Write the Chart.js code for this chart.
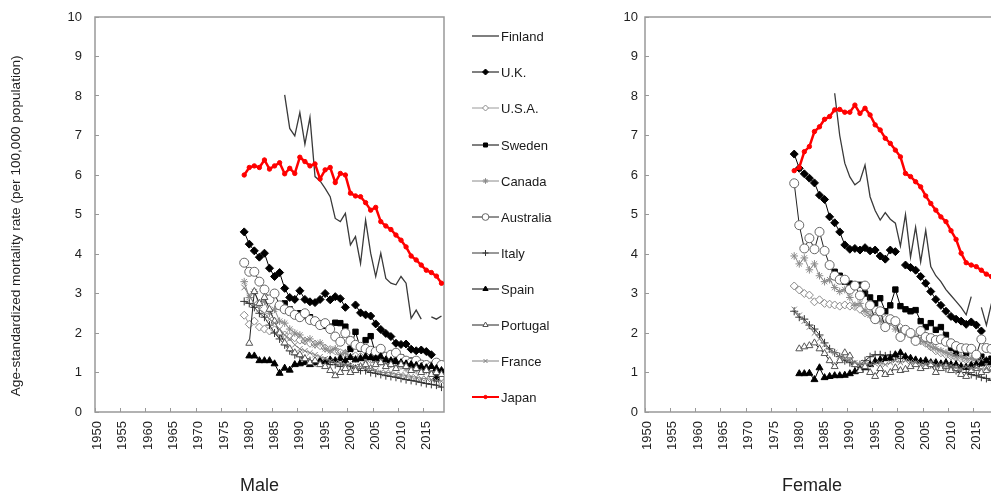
<!DOCTYPE html>
<html>
<head>
<meta charset="utf-8">
<script src="https://cdn.jsdelivr.net/npm/chart.js@4/dist/chart.umd.min.js"></script>
<style>
  html, body { margin:0; padding:0; background:#fff; }
  body { width:991px; height:499px; overflow:hidden; position:relative; font-family:"Liberation Sans", Arial, sans-serif; }
  #male { position:absolute; left:0; top:0; }
  #female { position:absolute; left:560px; top:0; }
  #legend { position:absolute; left:472px; top:0; width:120px; height:420px; }
  .row { position:absolute; left:0; height:16px; display:flex; align-items:center; }
  .row canvas { display:block; }
  .row span { margin-left:2px; font-size:13px; color:#1a1a1a; white-space:nowrap; }
</style>
</head>
<body>
<canvas id="male" width="460" height="499"></canvas>
<div id="legend"></div>
<canvas id="female" width="440" height="499"></canvas>
<script>
// === Data ===
const years = [1979,1980,1981,1982,1983,1984,1985,1986,1987,1988,
               1989,1990,1991,1992,1993,1994,1995,1996,1997,1998,
               1999,2000,2001,2002,2003,2004,2005,2006,2007,2008,
               2009,2010,2011,2012,2013,2014,2015,2016,2017,2018];
const tickYears = [1950,1955,1960,1965,1970,1975,1980,1985,1990,1995,2000,2005,2010,2015];
const countries = ['Finland','U.K.','U.S.A.','Sweden','Canada','Australia','Italy','Spain','Portugal','France','Japan'];

// Male
const finlandM = [null,null,null,null,null,null,null,null,8.03,7.18,6.99,7.58,6.78,7.46,5.96,5.85,5.66,5.45,4.90,4.82,5.03,4.23,4.44,3.76,4.86,4.02,3.43,4.02,3.38,3.26,3.22,3.43,3.26,2.37,2.58,2.35,null,2.41,2.35,2.43];
const ukM = [4.56,4.25,4.08,3.92,4.02,3.64,3.43,3.53,3.13,2.90,2.85,3.07,2.85,2.79,2.77,2.85,3.00,2.84,2.92,2.87,2.65,null,2.71,2.51,2.46,2.43,2.23,2.09,1.99,1.91,1.74,1.71,1.72,1.59,1.55,1.57,1.53,1.45,null,null];
const usaM = [2.45,2.22,2.30,2.15,2.10,2.05,2.08,1.98,1.95,1.90,1.88,1.82,1.80,1.74,1.72,1.68,1.62,1.58,1.55,1.50,1.48,1.45,1.42,1.40,1.36,1.33,1.30,1.28,1.25,1.22,1.20,1.18,1.15,1.12,1.12,1.10,1.08,1.06,1.05,1.05];
const swedenM = [null,null,null,null,null,null,null,null,2.75,2.60,2.45,2.50,2.43,2.40,2.30,2.25,2.18,2.16,2.26,2.25,2.16,1.60,2.03,1.60,1.82,1.92,1.45,1.50,1.35,1.42,1.30,1.38,1.25,1.30,1.23,1.15,1.10,1.05,0.85,1.02];
const canadaM = [3.30,2.90,3.05,2.70,2.80,2.50,2.60,2.30,2.25,2.10,2.00,1.95,1.80,1.85,1.70,1.75,1.60,1.55,1.60,1.45,1.50,1.40,1.35,1.40,1.30,1.35,1.25,1.30,1.20,1.25,1.15,1.20,1.10,1.15,1.05,1.10,1.05,1.00,1.05,1.00];
const australiaM = [3.78,3.55,3.55,3.30,3.10,2.85,3.00,2.70,2.60,2.55,2.46,2.40,2.50,2.33,2.30,2.20,2.25,2.10,1.91,1.78,2.00,1.80,1.70,1.65,1.60,1.55,1.53,1.60,1.40,1.45,1.50,1.35,1.30,1.25,1.30,1.20,1.19,1.15,1.25,1.19];
const italyM = [2.80,2.75,2.65,2.50,2.40,2.20,2.00,1.85,1.70,1.55,1.45,1.40,1.35,1.30,1.25,1.30,1.25,1.20,1.20,1.15,1.20,1.15,1.10,1.05,1.05,1.00,0.98,0.95,0.92,0.90,0.88,0.85,0.82,0.80,0.78,0.75,0.72,0.70,0.68,0.63];
const spainM = [null,1.42,1.42,1.30,1.30,1.30,1.22,0.98,1.11,1.06,1.20,1.22,1.25,1.20,1.25,1.30,1.28,1.32,1.30,1.35,1.30,1.38,1.32,1.35,1.40,1.38,1.35,1.40,1.32,1.30,1.28,1.25,1.22,1.20,1.18,1.15,1.12,1.15,1.10,1.05];
const portugalM = [null,1.74,3.05,2.75,2.90,2.60,2.30,2.00,1.75,1.60,1.50,1.45,1.35,1.25,1.30,1.20,1.15,1.05,0.92,1.00,1.10,1.00,1.05,1.15,1.20,1.10,1.20,1.25,1.15,1.20,1.10,1.20,1.15,1.05,1.10,1.00,1.05,0.95,1.00,0.95];
const franceM = [3.15,2.95,2.75,2.60,2.50,2.35,2.25,2.10,1.95,1.85,1.70,1.60,1.55,1.50,1.45,1.40,1.35,1.30,1.25,1.25,1.20,1.20,1.15,1.15,1.10,1.10,1.05,1.00,1.00,1.00,0.95,0.95,0.92,0.90,0.88,0.85,0.85,0.82,0.80,0.78];
const japanM = [6.00,6.19,6.23,6.19,6.38,6.15,6.23,6.31,6.03,6.17,6.04,6.45,6.34,6.23,6.28,5.90,6.13,6.19,5.81,6.04,6.00,5.54,5.47,5.45,5.30,5.11,5.18,4.82,4.71,4.62,4.48,4.35,4.18,3.95,3.85,3.72,3.59,3.53,3.44,3.26];

// Female
const finlandF = [null,null,null,null,null,null,null,null,8.07,7.00,6.30,5.95,5.75,5.85,6.25,5.45,5.10,4.86,5.05,4.88,4.78,4.20,5.00,3.92,4.68,3.80,4.60,3.68,3.45,3.30,3.10,2.95,2.80,2.65,2.46,2.92,null,2.65,2.20,2.75];
const ukF = [6.53,6.17,6.03,5.92,5.80,5.49,5.38,4.94,4.79,4.56,4.23,4.12,4.14,4.10,4.16,4.08,4.10,3.95,3.87,4.10,4.06,null,3.72,3.66,3.59,3.43,3.26,3.05,2.85,2.70,2.55,2.42,2.35,2.30,2.22,2.28,2.20,2.05,null,null];
const usaF = [3.19,3.09,3.00,2.96,2.79,2.84,2.75,2.73,2.71,2.68,2.71,2.68,2.67,2.60,2.51,2.47,2.43,2.38,2.35,2.28,2.20,2.14,2.08,1.98,1.87,1.80,1.74,1.65,1.55,1.50,1.45,1.42,1.38,1.35,1.32,1.30,1.28,1.25,1.25,1.22];
const swedenF = [null,null,null,null,null,null,null,null,3.55,3.45,3.30,3.25,3.20,3.22,3.00,2.90,2.75,2.88,2.55,2.70,3.10,2.68,2.60,2.55,2.58,2.30,2.15,2.25,2.08,2.15,1.95,1.62,1.50,1.62,1.50,1.58,1.45,1.40,1.28,1.35];
const canadaF = [3.95,3.75,3.90,3.60,3.75,3.45,3.30,3.35,3.15,3.05,3.10,2.90,2.70,2.75,2.55,2.45,2.40,2.30,2.25,2.30,2.10,2.05,2.00,1.95,1.85,1.80,1.75,1.65,1.60,1.55,1.50,1.45,1.40,1.40,1.35,1.35,1.30,1.30,1.25,1.25];
const australiaF = [5.79,4.73,4.14,4.40,4.12,4.56,4.08,3.72,3.45,3.35,3.35,3.10,3.20,2.95,3.20,2.70,2.35,2.55,2.15,2.35,2.30,1.90,2.08,2.00,1.80,2.05,1.90,1.87,1.82,1.84,1.78,1.74,1.67,1.62,1.61,1.60,1.45,1.84,1.62,1.60];
const italyF = [2.55,2.40,2.35,2.20,2.10,1.95,1.75,1.60,1.50,1.40,1.30,1.25,1.20,1.20,1.30,1.40,1.45,1.45,1.42,1.45,1.40,1.35,1.40,1.30,1.30,1.28,1.25,1.20,1.18,1.15,1.10,1.12,1.05,1.00,1.00,0.95,0.92,0.88,0.85,0.80];
const spainF = [null,0.97,0.97,0.98,0.82,1.12,0.87,0.90,0.92,0.92,0.93,0.97,1.02,1.08,1.12,1.20,1.28,1.32,1.35,1.36,1.45,1.50,1.40,1.36,1.32,1.28,1.30,1.25,1.25,1.22,1.25,1.20,1.20,1.15,1.13,1.18,1.20,1.22,1.30,1.25];
const portugalF = [null,1.60,1.65,1.68,1.75,1.60,1.48,1.30,1.15,1.30,1.50,1.42,1.20,1.05,1.15,1.00,0.90,1.10,0.95,1.00,1.12,1.05,1.08,1.15,1.20,1.10,1.15,1.20,1.00,1.10,1.15,1.05,1.10,0.95,0.90,1.05,1.10,1.00,1.05,1.10];
const franceF = [2.60,2.45,2.30,2.15,2.00,1.85,1.70,1.55,1.50,1.40,1.35,1.30,1.25,1.20,1.25,1.20,1.22,1.25,1.20,1.25,1.30,1.25,1.30,1.28,1.25,1.22,1.20,1.25,1.18,1.20,1.15,1.18,1.12,1.10,1.15,1.10,1.12,1.08,1.10,1.05];
const japanF = [6.11,6.19,6.59,6.72,7.10,7.22,7.41,7.48,7.65,7.66,7.59,7.59,7.77,7.56,7.69,7.52,7.27,7.14,6.93,6.80,6.63,6.46,6.04,5.96,5.83,5.70,5.47,5.28,5.11,4.94,4.82,4.59,4.37,4.02,3.78,3.72,3.68,3.59,3.49,3.43];

const maleSeries = [finlandM, ukM, usaM, swedenM, canadaM, australiaM, italyM, spainM, portugalM, franceM, japanM];
const femaleSeries = [finlandF, ukF, usaF, swedenF, canadaF, australiaF, italyF, spainF, portugalF, franceF, japanF];

// === Styles ===
const FONT = '"Liberation Sans", Arial, sans-serif';
const TXT = '#1f1f1f';
const AXIS = '#999999';
const styles = {
  'Finland':   { color:'#3a3a3a', width:1.3 },
  'U.K.':      { color:'#000',    width:1, point:'rectRot',  radius:4,   fill:'#000',    stroke:'#000' },
  'U.S.A.':    { color:'#9a9a9a', width:1, point:'rectRot',  radius:4,   fill:'#fff',    stroke:'#8a8a8a' },
  'Sweden':    { color:'#000',    width:1, point:'rect',     radius:3.8, fill:'#000',    stroke:'#000' },
  'Canada':    { color:'#8a8a8a', width:1, point:'star',     radius:3.8, fill:'#8a8a8a', stroke:'#8a8a8a' },
  'Australia': { color:'#222',    width:1, point:'circle',   radius:4.5, fill:'#fff',    stroke:'#666' },
  'Italy':     { color:'#333',    width:1, point:'cross',    radius:4,   fill:'#333',    stroke:'#333' },
  'Spain':     { color:'#000',    width:1, point:'triangle', radius:4,   fill:'#000',    stroke:'#000' },
  'Portugal':  { color:'#222',    width:1, point:'triangle', radius:4,   fill:'#fff',    stroke:'#555' },
  'France':    { color:'#808080', width:1, point:'crossRot', radius:3.8, fill:'#808080', stroke:'#808080' },
  'Japan':     { color:'#ff0000', width:2.5, point:'circle', radius:2.2, fill:'#ff0000', stroke:'#ff0000' }
};

function makeDatasets(series){
  return countries.map((c, i) => {
    const s = styles[c];
    return {
      label: c,
      data: years.map((y, j) => ({ x: y, y: series[i][j] })),
      borderColor: s.color,
      borderWidth: s.width,
      pointStyle: s.point || 'circle',
      pointRadius: s.point ? s.radius : 0,
      pointBackgroundColor: s.fill || s.color,
      pointBorderColor: s.stroke || s.color,
      pointBorderWidth: 1,
      tension: 0,
      spanGaps: false,
      order: countries.length - 1 - i
    };
  });
}

// plot-area border
const frame = {
  id: 'frame',
  beforeDatasetsDraw(chart){
    const { ctx, chartArea: a } = chart;
    ctx.save();
    ctx.strokeStyle = AXIS;
    ctx.lineWidth = 1.5;
    ctx.strokeRect(a.left, a.top, a.right - a.left, a.bottom - a.top);
    ctx.restore();
  }
};

function makeChart(el, series, title, yWidth, yPad, yTitle, padRight){
  return new Chart(el, {
    type: 'line',
    data: { datasets: makeDatasets(series) },
    plugins: [frame],
    options: {
      responsive: false,
      animation: false,
      devicePixelRatio: 1,
      layout: { padding: { left: 0, right: padRight, top: 17, bottom: 0 } },
      plugins: { legend: { display: false }, tooltip: { enabled: false } },
      scales: {
        x: {
          type: 'linear', min: 1949.5, max: 2018.5,
          afterBuildTicks: sc => { sc.ticks = tickYears.map(v => ({ value: v - 0.5 })); },
          afterFit: sc => { sc.height = 87; sc.paddingLeft = 0; sc.paddingRight = 0; },
          ticks: {
            autoSkip: false, minRotation: 90, maxRotation: 90, labelOffset: 2.5, padding: 13,
            callback: v => String(Math.round(v + 0.5)),
            font: { family: FONT, size: 13 }, color: TXT
          },
          grid: { drawOnChartArea: false, tickLength: -4, color: AXIS, lineWidth: 1 },
          border: { display: false },
          title: { display: true, text: title, font: { family: FONT, size: 18 }, color: TXT, padding: { top: 0, bottom: 2 } }
        },
        y: {
          min: 0, max: 10,
          afterFit: sc => { sc.width = yWidth; sc.paddingTop = 0; sc.paddingBottom = 0; },
          ticks: { stepSize: 1, padding: yPad, font: { family: FONT, size: 13 }, color: TXT },
          grid: { drawOnChartArea: false, tickLength: -4, color: AXIS, lineWidth: 1 },
          border: { display: false },
          title: yTitle ? { display: true, text: yTitle, font: { family: FONT, size: 13.6 }, color: TXT, padding: { top: 8.5, bottom: 0 } } : { display: false }
        }
      }
    }
  });
}

makeChart(document.getElementById('male'), maleSeries, 'Male    ', 95, 17,
  'Age-standardized mortality rate (per 100,000 population)      ', 16);
makeChart(document.getElementById('female'), femaleSeries, 'Female   ', 85, 11, null, 6);

// === Legend ===
const legendRowsY = [36, 72, 108, 145, 181, 217, 253, 289, 325, 361, 397];
const legendEl = document.getElementById('legend');
countries.forEach((c, i) => {
  const s = styles[c];
  const row = document.createElement('div');
  row.className = 'row';
  row.style.top = (legendRowsY[i] - 8) + 'px';
  const cv = document.createElement('canvas');
  cv.width = 27; cv.height = 16;
  const ctx = cv.getContext('2d');
  ctx.strokeStyle = s.color;
  ctx.lineWidth = Math.min(s.width, 2);
  ctx.beginPath(); ctx.moveTo(0, 8); ctx.lineTo(27, 8); ctx.stroke();
  if (s.point && Chart.helpers && Chart.helpers.drawPoint) {
    ctx.fillStyle = s.fill; ctx.strokeStyle = s.stroke; ctx.lineWidth = 1;
    Chart.helpers.drawPoint(ctx, { pointStyle: s.point, radius: s.radius * 0.75, borderWidth: 1, rotation: 0 }, 13.5, 8);
  }
  const label = document.createElement('span');
  label.textContent = c;
  row.appendChild(cv); row.appendChild(label);
  legendEl.appendChild(row);
});
</script>
</body>
</html>
